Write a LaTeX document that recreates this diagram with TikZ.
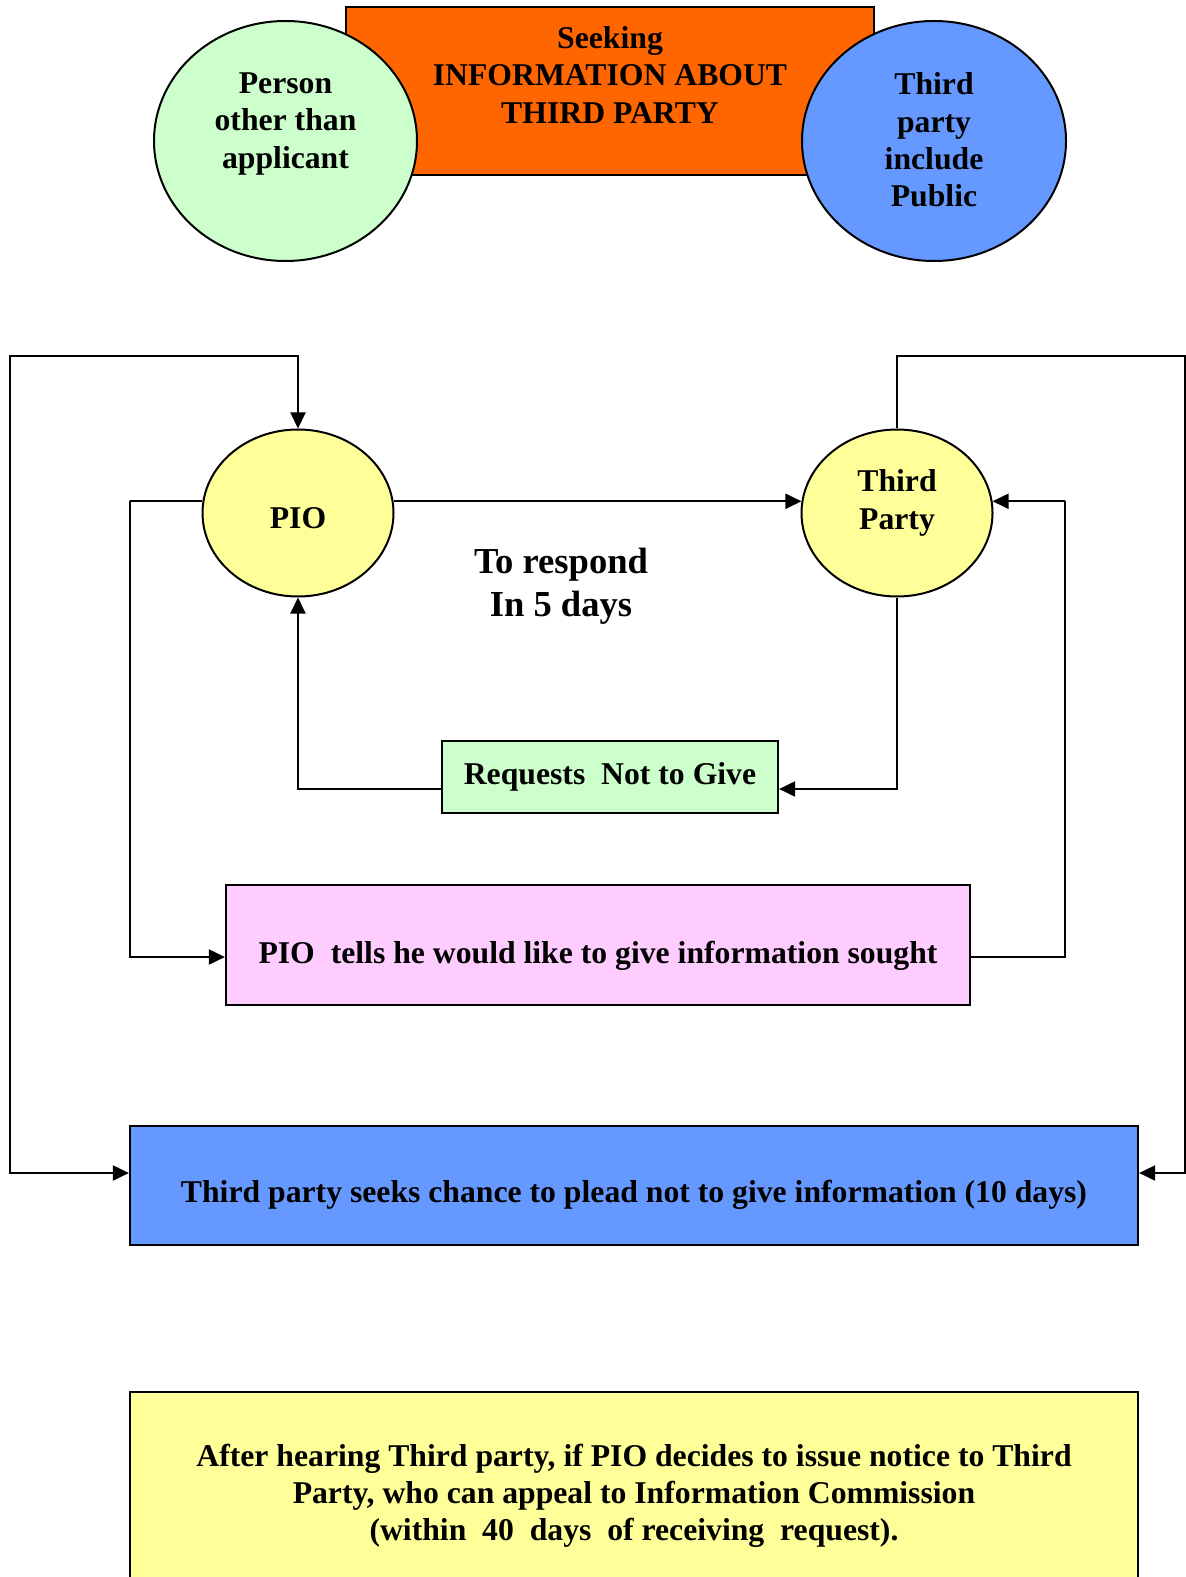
\documentclass[tikz,border=0pt]{standalone}
\usepackage{fontspec}
\setmainfont{Liberation Serif}
\usepackage{tikz}
\usetikzlibrary{shapes.geometric}
\usetikzlibrary{arrows.meta}
\definecolor{orng}{HTML}{FF6600}
\definecolor{lgreen}{HTML}{CCFFCC}
\definecolor{pblue}{HTML}{6699FF}
\definecolor{lyellow}{HTML}{FFFF99}
\definecolor{lpink}{HTML}{FFCCFF}

\begin{document}
\begin{tikzpicture}[x=0.5pt,y=-0.5pt,
                font=\bfseries\fontsize{15.85}{18.6}\selectfont,
                blob/.style n args={3}{ellipse,draw,line width=1pt,fill=#1,
                    minimum width=#2pt,minimum height=#3pt,inner sep=0pt},
                box/.style n args={3}{rectangle,draw,line width=1.1pt,fill=#1,
                    minimum width=#2pt,minimum height=#3pt,inner sep=0pt},
                txt/.style={align=center,inner sep=0pt},
                link/.style={line width=1pt,-{Triangle[length=8pt,width=7.5pt]}}]
                \useasboundingbox (0,0) rectangle (1186,1577);
                % top row
                \node[box={orng}{264}{84}](seek) at (610,91) {};
                \node[blob={lgreen}{131.5}{120}](person) at (285.5,141) {};
                \node[blob={pblue}{132}{120}](public) at (934,141) {};
                \node[txt](seekTxt) at (610,75) {Seeking\\INFORMATION ABOUT\\THIRD PARTY};
                \node[txt](personTxt) at (285.5,124) {Person\\other than\\applicant};
                \node[txt](publicTxt) at (934,140) {Third\\party\\include\\Public};
                % flow
                \node[blob={lyellow}{95.5}{83.5}](pio) at (298,513) {};
                \node[blob={lyellow}{95.5}{83.5}](tp) at (897,513) {};
                \node[box={lgreen}{168}{36}](req) at (610,777) {Requests\ \ Not to Give};
                \node[box={lpink}{372}{60}](tells) at (598,945) {};
                \node[box={pblue}{504}{59.5}](plead) at (634,1185.5) {};
                \node[box={lyellow}{504}{104},txt](appeal) at (634,1496) {After hearing Third party, if PIO decides to issue notice to Third\\Party, who can appeal to Information Commission\\(within\ \ 40\ \ days\ \ of receiving\ \ request).};
                \node[txt](pioTxt) at (298,518) {PIO};
                \node[txt](tpTxt) at (897,503) {Third\\Party};
                \node[txt,font=\bfseries\fontsize{18.3}{21.6}\selectfont](respond) at (561,586) {To respond\\In 5 days};
                \node[txt](tellsTxt) at (598,956) {PIO\ \ tells he would like to give information sought};
                \node[txt](pleadTxt) at (634,1194.5) {Third party seeks chance to plead not to give information (10 days)};
                \coordinate (inL) at (130,501);
                \coordinate (inR) at (1065,501);
                \coordinate (outL) at (10,356);
                \coordinate (outR) at (1185,356);
                \draw[link] (pio.7) -- (tp.173);
                \draw[link] (pio.173) -| (inL) |- ([yshift=-6pt]tells.west);
                \draw[link] ([yshift=-6pt]tells.east) -| (inR) |- (tp.7);
                \draw[link] (tp.south) |- ([yshift=-6pt]req.east);
                \draw[link] ([yshift=-6pt]req.west) -| (pio.south);
                \draw[link,{Triangle[length=8pt,width=7.5pt]}-{Triangle[length=8pt,width=7.5pt]}] (pio.north) |- (outL) |- ([yshift=6.25pt]plead.west);
                \draw[link] (tp.north) |- (outR) |- ([yshift=6.25pt]plead.east);
\end{tikzpicture}
\end{document}
